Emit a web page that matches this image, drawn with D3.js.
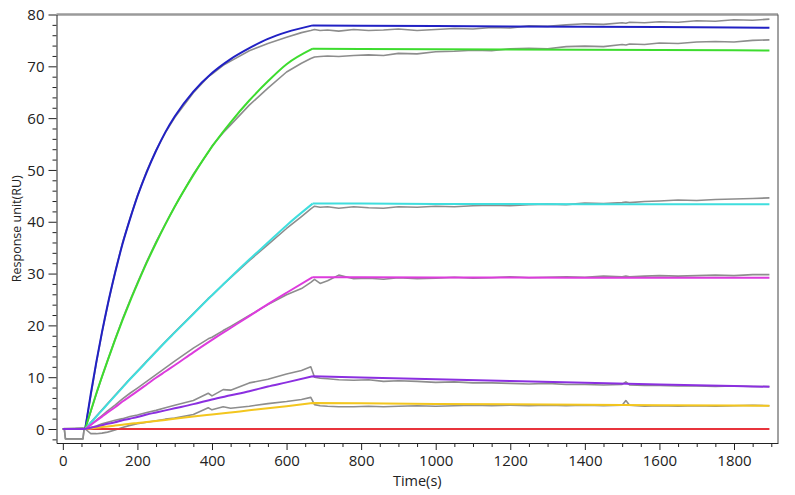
<!DOCTYPE html>
<html>
<head>
<meta charset="utf-8">
<script src="https://cdn.jsdelivr.net/npm/d3@7"></script>
<style>
  body { margin: 0; background: #fff; }
  svg { display: block; font-family: "Open Sans", sans-serif; }
</style>
</head>
<body>
<svg id="chart" width="795" height="495"></svg>
<script>
// Tick labels
var xTicks = [0, 200, 400, 600, 800, 1000, 1200, 1400, 1600, 1800];
var yTicks = [0, 10, 20, 30, 40, 50, 60, 70, 80];

// Times (s) for the fitted curves
var baseTimes = [0, 60];
var assocTimes = [60, 75, 90, 105, 120, 140, 160, 180, 200, 225, 250, 275, 300, 350, 400, 450, 500, 550, 600, 670];
var dissocTimes = [670, 800, 1000, 1200, 1400, 1600, 1800, 1895];

// Fitted curves (RU), association and dissociation phase
var blueAssoc = [0, 6.8, 13.0, 18.7, 23.9, 30.1, 35.7, 40.5, 44.9, 49.6, 53.7, 57.3, 60.3, 65.1, 68.7, 71.4, 73.5, 75.3, 76.6, 77.9];
var blueDissoc = [77.9, 77.85, 77.8, 77.7, 77.65, 77.6, 77.5, 77.45];
var greenAssoc = [0, 3.5, 6.9, 10.1, 13.2, 17.2, 21.0, 24.6, 28.0, 32.1, 35.9, 39.5, 42.9, 49.0, 54.5, 59.2, 63.4, 67.1, 70.4, 73.4];
var greenDissoc = [73.4, 73.35, 73.3, 73.25, 73.2, 73.15, 73.1, 73.05];
var cyanAssoc = [0, 1.2, 2.4, 3.6, 4.8, 6.4, 8.0, 9.6, 11.1, 13.0, 14.9, 16.8, 18.6, 22.2, 25.8, 29.3, 32.7, 36.0, 39.3, 43.5];
var cyanDissoc = [43.5, 43.5, 43.45, 43.45, 43.4, 43.4, 43.4, 43.4];
var magentaAssoc = [0, 0.8, 1.6, 2.4, 3.2, 4.2, 5.3, 6.3, 7.3, 8.6, 9.9, 11.1, 12.3, 14.8, 17.2, 19.5, 21.8, 24.1, 26.3, 29.3];
var magentaDissoc = [29.3, 29.3, 29.25, 29.25, 29.2, 29.2, 29.2, 29.2];
var purpleAssoc = [0, 0.25, 0.5, 0.75, 1.0, 1.3, 1.7, 2.0, 2.3, 2.8, 3.2, 3.6, 4.0, 4.8, 5.7, 6.5, 7.3, 8.2, 9.0, 10.2];
var purpleDissoc = [10.2, 9.95, 9.6, 9.25, 8.95, 8.6, 8.3, 8.15];
var yellowAssoc = [0, 0.12, 0.25, 0.37, 0.5, 0.66, 0.82, 1.0, 1.15, 1.35, 1.55, 1.76, 1.97, 2.4, 2.8, 3.2, 3.6, 4.0, 4.4, 5.0];
var yellowDissoc = [5.0, 4.95, 4.85, 4.8, 4.7, 4.6, 4.55, 4.5];
var redTimes = [60, 1895];
var redValues = [0, 0];

// Measured sensorgrams (gray)
var gTimes = [0, 4, 7, 54, 57, 60, 75, 90, 105, 120, 140, 160, 180, 200, 225, 250, 275, 300, 350, 390,
  400, 430, 450, 500, 550, 600, 640, 665, 675, 690, 710, 740, 780, 820, 860, 900, 950, 1000, 1050, 1100,
  1150, 1200, 1250, 1300, 1350, 1400, 1450, 1500, 1510, 1520, 1560, 1600, 1650, 1700, 1750, 1800, 1850, 1895];
var gray1 = [0, 0.1, 0.1, 0.2, 0.1, 0.2, 6.5, 12.8, 18.6, 23.8, 30.2, 35.9, 40.6, 45.0, 49.8, 53.8, 57.2, 60.1, 64.9, 68.0,
  68.5, 70.2, 71.0, 73.0, 74.4, 75.6, 76.5, 76.9, 77.1, 76.9, 77.0, 76.8, 77.1, 76.9, 77.0, 77.2, 76.9, 77.1, 77.3, 77.2,
  77.5, 77.4, 77.8, 77.7, 78.0, 78.2, 78.1, 78.4, 78.3, 78.5, 78.4, 78.6, 78.5, 78.8, 78.7, 79.0, 78.9, 79.1];
var gray2 = [0, 0, 0, 0.1, 0, 0.1, 3.4, 6.8, 10.1, 13.2, 17.3, 21.2, 24.8, 28.2, 32.3, 36.1, 39.6, 42.9, 49.2, 53.4,
  54.6, 57.2, 58.7, 62.5, 65.8, 68.9, 70.6, 71.5, 71.8, 71.9, 72.0, 71.9, 72.1, 72.2, 72.1, 72.5, 72.4, 72.8, 72.9, 73.1,
  73.0, 73.4, 73.5, 73.4, 73.8, 73.9, 73.8, 74.2, 74.1, 74.3, 74.2, 74.5, 74.4, 74.7, 74.8, 74.7, 75.0, 75.1];
var gray3 = [0, 0, 0, 0.1, 0, 0.1, 1.3, 2.5, 3.7, 4.9, 6.5, 8.1, 9.7, 11.2, 13.1, 15.0, 16.9, 18.7, 22.3, 25.2,
  25.8, 27.9, 29.2, 32.5, 35.6, 38.7, 41.0, 42.5, 43.0, 42.8, 42.9, 42.6, 42.9, 42.7, 42.6, 42.9, 42.8, 43.0, 42.9, 43.1,
  43.2, 43.1, 43.3, 43.4, 43.3, 43.6, 43.5, 43.7, 43.8, 43.7, 43.9, 44.0, 44.2, 44.1, 44.3, 44.4, 44.5, 44.6];
var gray4 = [0, 0, 0, 0.1, 0, 0.1, 0.9, 1.7, 2.6, 3.5, 4.6, 5.8, 6.9, 7.9, 9.2, 10.5, 11.8, 13.1, 15.6, 17.4,
  17.7, 19.0, 19.8, 21.9, 24.0, 25.9, 27.1, 28.3, 28.9, 28.1, 28.6, 29.7, 29.0, 29.1, 28.9, 29.2, 29.0, 29.1, 29.3, 29.1,
  29.2, 29.4, 29.2, 29.3, 29.4, 29.3, 29.5, 29.4, 29.5, 29.4, 29.5, 29.6, 29.5, 29.6, 29.7, 29.6, 29.8, 29.8];
var gray5 = [0, 0, -1.9, -1.9, 0, 0, 0.3, 0.6, 1.0, 1.3, 1.7, 2.0, 2.4, 2.7, 3.2, 3.6, 4.1, 4.6, 5.5, 6.9,
  6.4, 7.6, 7.5, 8.9, 9.6, 10.6, 11.3, 12.0, 10.0, 9.8, 9.7, 9.5, 9.4, 9.5, 9.2, 9.3, 9.2, 9.0, 9.1, 8.9,
  8.9, 8.8, 8.7, 8.8, 8.6, 8.6, 8.5, 8.6, 9.1, 8.5, 8.4, 8.4, 8.3, 8.3, 8.2, 8.3, 8.2, 8.2];
var gray6 = [0, 0, -1.9, -1.9, 0, 0, -0.9, -0.9, -0.8, -0.6, -0.2, 0.3, 0.7, 1.0, 1.3, 1.6, 1.9, 2.1, 2.8, 4.1,
  3.7, 4.3, 4.0, 4.4, 4.9, 5.3, 5.7, 6.1, 4.7, 4.5, 4.4, 4.3, 4.3, 4.4, 4.3, 4.4, 4.5, 4.4, 4.5, 4.6,
  4.5, 4.6, 4.5, 4.6, 4.5, 4.6, 4.5, 4.6, 5.5, 4.6, 4.4, 4.5, 4.4, 4.5, 4.4, 4.5, 4.6, 4.5];

// Define the plot area
var margin = { top: 14.5, right: 17, bottom: 52, left: 56.5 };
var W = 795, H = 495;

var xScale = d3.scaleLinear().domain([-17, 1918]).range([margin.left, W - margin.right]);
var yScale = d3.scaleLinear().domain([-2.7, 80]).range([H - margin.bottom, margin.top]);

var svg = d3.select("#chart");

function pts(times, vals) {
  return times.map(function(t, i) { return [t, vals[i]]; });
}

var lineLin = d3.line()
  .x(function(d) { return xScale(d[0]); })
  .y(function(d) { return yScale(d[1]); });
var lineSmooth = d3.line()
  .x(function(d) { return xScale(d[0]); })
  .y(function(d) { return yScale(d[1]); })
  .curve(d3.curveMonotoneX);

// Gray measured traces first
var grays = [gray1, gray2, gray3, gray4, gray5, gray6];
svg.append("g").selectAll("path")
  .data(grays)
  .enter()
  .append("path")
  .attr("d", function(d) { return lineLin(pts(gTimes, d)); })
  .attr("fill", "none")
  .attr("stroke", "#8d8d8d")
  .attr("stroke-width", 1.6)
  .attr("stroke-linejoin", "round");

// Red zero line
svg.append("path")
  .attr("d", lineLin(pts(redTimes, redValues)))
  .attr("fill", "none")
  .attr("stroke", "#e8343c")
  .attr("stroke-width", 2);

// Fitted curves
var fits = [
  { color: "#2121c4", assoc: blueAssoc, dissoc: blueDissoc },
  { color: "#3ddc2e", assoc: greenAssoc, dissoc: greenDissoc },
  { color: "#3fdede", assoc: cyanAssoc, dissoc: cyanDissoc },
  { color: "#dd3bdd", assoc: magentaAssoc, dissoc: magentaDissoc },
  { color: "#f3c61e", assoc: yellowAssoc, dissoc: yellowDissoc },
  { color: "#8b2fe0", assoc: purpleAssoc, dissoc: purpleDissoc }
];

svg.append("g").selectAll("path")
  .data(fits)
  .enter()
  .append("path")
  .attr("d", function(d) {
    return lineLin(pts(baseTimes, [0, 0])) +
      lineSmooth(pts(assocTimes, d.assoc)) +
      lineLin(pts(dissocTimes, d.dissoc));
  })
  .attr("fill", "none")
  .attr("stroke", function(d) { return d.color; })
  .attr("stroke-width", 2)
  .attr("stroke-linejoin", "round");

// Frame: top gray line and right line
svg.append("line")
  .attr("x1", margin.left).attr("x2", W - margin.right)
  .attr("y1", margin.top).attr("y2", margin.top)
  .attr("stroke", "#9a9a9a").attr("stroke-width", 2.5);
svg.append("line")
  .attr("x1", W - margin.right).attr("x2", W - margin.right)
  .attr("y1", margin.top).attr("y2", H - margin.bottom)
  .attr("stroke", "#444").attr("stroke-width", 1);

// Minor ticks
var xMinor = d3.range(0, 1901, 50).filter(function(v) { return v % 200 !== 0; });
var yMinor = d3.range(-2, 81, 2).filter(function(v) { return v % 10 !== 0; });

svg.append("g")
  .attr("transform", "translate(0," + (H - margin.bottom) + ")")
  .call(d3.axisBottom(xScale).tickValues(xMinor).tickSize(4).tickSizeOuter(0).tickFormat(""))
  .call(function(g) { g.select(".domain").remove(); });
svg.append("g")
  .attr("transform", "translate(" + margin.left + ",0)")
  .call(d3.axisLeft(yScale).tickValues(yMinor).tickSize(4).tickSizeOuter(0).tickFormat(""))
  .call(function(g) { g.select(".domain").remove(); });

// Major axes
var xAxisG = svg.append("g")
  .attr("transform", "translate(0," + (H - margin.bottom) + ")")
  .call(d3.axisBottom(xScale).tickValues(xTicks).tickFormat(d3.format("d"))
    .tickSize(7).tickSizeOuter(0).tickPadding(5));
var yAxisG = svg.append("g")
  .attr("transform", "translate(" + margin.left + ",0)")
  .call(d3.axisLeft(yScale).tickValues(yTicks).tickFormat(d3.format("d"))
    .tickSize(8).tickSizeOuter(0).tickPadding(4));

svg.selectAll(".tick line, .domain").attr("stroke", "#222");
svg.selectAll(".tick text")
  .attr("fill", "#222")
  .style("font-size", "15px")
  .style("font-family", "'Open Sans', sans-serif");
yAxisG.selectAll(".tick text").attr("dy", "0.34em");

// Axis labels
svg.append("text")
  .attr("x", (margin.left + W - margin.right) / 2)
  .attr("y", 486)
  .attr("text-anchor", "middle")
  .attr("fill", "#222")
  .style("font-size", "14.5px")
  .text("Time(s)");

svg.append("text")
  .attr("transform", "translate(21," + ((margin.top + H - margin.bottom) / 2) + ") rotate(-90)")
  .attr("text-anchor", "middle")
  .attr("fill", "#222")
  .style("font-size", "12.5px")
  .text("Response unit(RU)");
</script>
</body>
</html>
